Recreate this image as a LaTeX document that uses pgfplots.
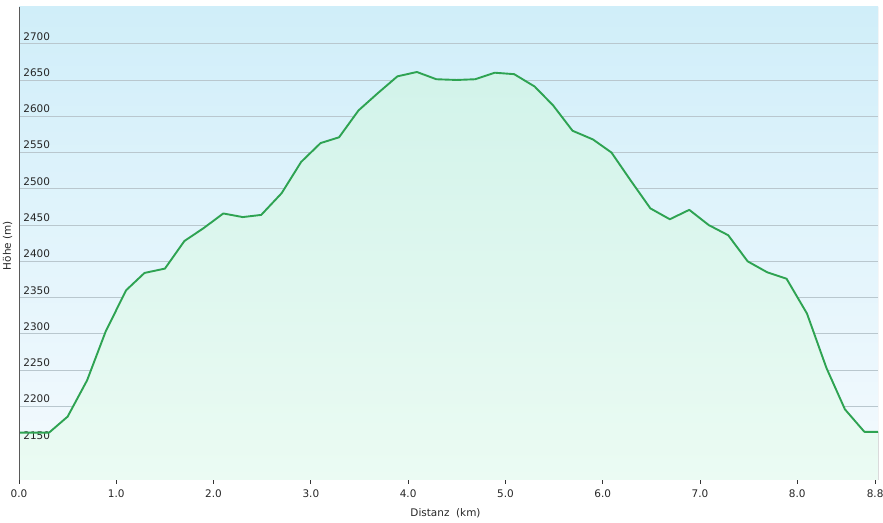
\documentclass[border=0pt]{standalone}
\usepackage{fontspec}
\setmainfont{DejaVu Sans}
\usepackage{pgfplots}
\usepgfplotslibrary{fillbetween}
\pgfplotsset{compat=1.18}

\definecolor{bgtop}{HTML}{D0EEF9}
\definecolor{bgbot}{HTML}{F4FAFE}
\definecolor{filltop}{HTML}{D2F3EA}
\definecolor{fillbot}{HTML}{EBFBF3}
\definecolor{lineg}{HTML}{2EA352}
\definecolor{gridc}{HTML}{B9C7CE}

\pgfplotstableread{
x y
0.00 2164
0.31 2164
0.50 2186
0.70 2236
0.89 2303
1.10 2360
1.29 2384
1.50 2390
1.70 2428
1.90 2446
2.10 2466
2.30 2461
2.49 2464
2.70 2494
2.90 2537
3.10 2563
3.29 2571
3.49 2608
3.69 2632
3.89 2655
4.09 2661
4.29 2651
4.50 2650
4.69 2651
4.89 2660
5.09 2658
5.30 2641
5.49 2615
5.69 2580
5.90 2568
6.09 2550
6.29 2511
6.49 2473
6.69 2458
6.89 2471
7.09 2450
7.29 2436
7.49 2400
7.69 2385
7.89 2376
8.10 2328
8.30 2253
8.49 2196
8.69 2165
8.83 2165
}\profil

\begin{document}
\begin{tikzpicture}
\begin{axis}[
    scale only axis,
    width=859bp,
    height=473.3bp,
    xmin=0, xmax=8.83,
    ymin=2098.6, ymax=2751,
    /pgf/number format/assume math mode=true,
    /pgf/number format/1000 sep={},
    axis background/.style={top color=bgtop, bottom color=bgbot},
    axis line style={draw=none},
    xtick={0,1,2,3,4,5,6,7,8,8.8},
    xticklabels={0.0,1.0,2.0,3.0,4.0,5.0,6.0,7.0,8.0,8.8},
    ytick={2150,2200,...,2700},
    tick align=outside,
    major tick length=3.5bp,
    xtick style={draw=black!80, line width=0.8bp},
    ytick style={draw=none},
    xtick pos=bottom,
    ymajorgrids,
    major grid style={draw=gridc, line width=0.9bp},
    ticklabel style={font=\fontsize{10.5}{12}\selectfont, text=black!85},
    xticklabel style={inner sep=0pt, anchor=north, yshift=-6.5bp},
    yticklabel style={inner sep=0pt, anchor=south west, xshift=7.7bp, yshift=3.2bp},
    xlabel={Distanz\ \ (km)},
    ylabel={Höhe (m)},
    label style={font=\fontsize{10.5}{12}\selectfont, text=black!85},
    xlabel style={inner sep=0pt, at={(axis description cs:0.4965,-0.0697)}, anchor=center},
    ylabel style={inner sep=0pt, at={(axis description cs:-0.0134,0.495)}, anchor=center},
    clip=true,
]
\addplot[draw=none, name path=prof, forget plot] table {\profil};
\addplot[draw=none, name path=base, forget plot] coordinates {(0,2098.6) (8.83,2098.6)};
\addplot[draw=none, top color=filltop, bottom color=fillbot] fill between[of=prof and base];
\addplot[lineg, line width=1.9bp, line join=round] table {\profil};
\draw[black!65, line width=1.2bp] (rel axis cs:0,0) -- (rel axis cs:0,1);
\draw[black!80, line width=1bp] (rel axis cs:0,0) -- (rel axis cs:1,0);
\draw[black!25, line width=1bp] (rel axis cs:1,0) -- (rel axis cs:1,1);
\end{axis}
\pgfresetboundingbox
\path (current axis.south west) ++(-19bp,-43bp) rectangle ++(883bp,523bp);
\end{tikzpicture}
\end{document}
